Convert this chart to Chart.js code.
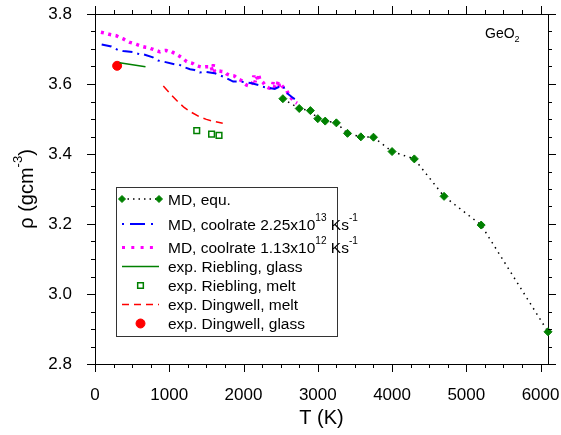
<!DOCTYPE html>
<html>
<head>
<meta charset="utf-8">
<script src="https://cdn.jsdelivr.net/npm/chart.js@4"></script>
<style>
  html, body { margin: 0; padding: 0; background: #fff; }
</style>
</head>
<body>
<canvas id="grafico" width="561" height="435"></canvas>
<script>
const FUENTE = "'Liberation Sans', Arial, sans-serif";

// ticks de los ejes
const ticksT = [0, 1000, 2000, 3000, 4000, 5000, 6000];
const ticksRho = [2.8, 3.0, 3.2, 3.4, 3.6, 3.8];

// MD en equilibrio
const mdEquT = [2530, 2750, 2900, 3000, 3100, 3250, 3400, 3580, 3750, 4000, 4300, 4700, 5200, 6100];
const mdEquRho = [3.558, 3.530, 3.524, 3.501, 3.494, 3.489, 3.459, 3.449, 3.448, 3.407, 3.386, 3.279, 3.197, 2.892];

// MD, enfriamiento 2.25x10^13 K/s
const mdRapidoT = [90, 220, 310, 380, 510, 600, 650, 780, 850, 920, 1080, 1130, 1190, 1280, 1340, 1410, 1480, 1610, 1750, 1860, 1950, 2110, 2200, 2260, 2420, 2480, 2530, 2580, 2650, 2730];
const mdRapidoRho = [3.713, 3.707, 3.697, 3.694, 3.691, 3.685, 3.685, 3.676, 3.667, 3.664, 3.656, 3.656, 3.649, 3.642, 3.640, 3.633, 3.635, 3.631, 3.619, 3.607, 3.607, 3.602, 3.597, 3.592, 3.586, 3.592, 3.595, 3.575, 3.563, 3.551];

// MD, enfriamiento 1.13x10^12 K/s
const mdLentoT = [80, 140, 190, 240, 285, 335, 380, 430, 470, 520, 560, 600, 640, 680, 720, 750, 785, 830, 875, 915,
  955, 990, 1020, 1050, 1075, 1120, 1165, 1200, 1235, 1275, 1315, 1350, 1390, 1425, 1455, 1490, 1525, 1560, 1580, 1595,
  1610, 1640, 1670, 1705, 1740, 1770, 1805, 1840, 1875, 1910, 1940, 1970, 1995, 2020, 2040, 2070, 2095, 2125, 2140, 2155,
  2170, 2190, 2205, 2220, 2245, 2265, 2290, 2310, 2335, 2355, 2385, 2400, 2415, 2430, 2455, 2470, 2485, 2505, 2530, 2555,
  2580, 2600, 2625, 2645, 2670, 2690, 2720];
const mdLentoRho = [3.748, 3.745, 3.742, 3.740, 3.738, 3.733, 3.729, 3.723, 3.719, 3.716, 3.713, 3.710, 3.707, 3.705, 3.704, 3.701, 3.699, 3.695, 3.692, 3.695,
  3.696, 3.693, 3.694, 3.690, 3.688, 3.682, 3.676, 3.670, 3.664, 3.661, 3.659, 3.654, 3.651, 3.649, 3.648, 3.649, 3.649, 3.652, 3.638, 3.656,
  3.636, 3.640, 3.637, 3.636, 3.635, 3.629, 3.626, 3.624, 3.623, 3.617, 3.613, 3.610, 3.607, 3.600, 3.597, 3.595, 3.594, 3.606, 3.624, 3.605,
  3.622, 3.615, 3.626, 3.612, 3.608, 3.604, 3.596, 3.592, 3.589, 3.588, 3.593, 3.605, 3.589, 3.602, 3.598, 3.610, 3.591, 3.598, 3.592, 3.588,
  3.583, 3.573, 3.565, 3.559, 3.553, 3.549, 3.545];

// experimentos
const rieblingVidrioT = [330, 680];
const rieblingVidrioRho = [3.661, 3.649];
const rieblingFundidoT = [1370, 1570, 1670];
const rieblingFundidoRho = [3.467, 3.457, 3.453];
const dingwellFundidoT = [920, 1000, 1100, 1200, 1300, 1400, 1500, 1600, 1720];
const dingwellFundidoRho = [3.594, 3.575, 3.553, 3.533, 3.519, 3.507, 3.499, 3.493, 3.488];
const dingwellVidrioT = [298];
const dingwellVidrioRho = [3.652];

function puntos(xs, ys) {
    return xs.map((x, i) => ({ x: x, y: ys[i] }));
}

// texto con ^{sup} y _{sub}
function textoRico(ctx, texto, x, y, size, dibujar) {
    const partes = [];
    const re = /([\^_])\{([^}]*)\}/g;
    let ultimo = 0, m;
    while ((m = re.exec(texto))) {
        if (m.index > ultimo) partes.push({ t: texto.slice(ultimo, m.index), k: '' });
        partes.push({ t: m[2], k: m[1] });
        ultimo = re.lastIndex;
    }
    if (ultimo < texto.length) partes.push({ t: texto.slice(ultimo), k: '' });

    let cx = x;
    for (const p of partes) {
        const s = p.k ? size * 0.65 : size;
        const dy = p.k === '^' ? -size * 0.55 : (p.k === '_' ? size * 0.28 : 0);
        ctx.font = s + 'px ' + FUENTE;
        if (dibujar) ctx.fillText(p.t, cx, y + dy);
        cx += ctx.measureText(p.t).width;
    }
    return cx - x;
}

// marcas mayores (8 px) y menores (4 px) en los cuatro lados, hacia afuera
const marcas = {
    id: 'marcas',
    afterDraw(chart) {
        const { ctx, chartArea: a, scales } = chart;
        ctx.save();
        ctx.strokeStyle = '#000';
        ctx.lineWidth = 1;
        ctx.beginPath();
        for (let v = 0; v <= 6000; v += 250) {
            const l = v % 1000 === 0 ? 8 : 4;
            const px = Math.round(scales.x.getPixelForValue(v)) + 0.5;
            ctx.moveTo(px, a.bottom); ctx.lineTo(px, a.bottom + l);
            ctx.moveTo(px, a.top); ctx.lineTo(px, a.top - l);
        }
        for (let i = 0; i <= 20; i++) {
            const l = i % 4 === 0 ? 8 : 4;
            const py = Math.round(scales.y.getPixelForValue(2.8 + i * 0.05)) + 0.5;
            ctx.moveTo(a.left, py); ctx.lineTo(a.left - l, py);
            ctx.moveTo(a.right, py); ctx.lineTo(a.right + l, py);
        }
        ctx.stroke();
        ctx.restore();
    }
};

const textos = {
    id: 'textos',
    afterDraw(chart) {
        const ctx = chart.ctx;
        const a = chart.chartArea;
        ctx.save();
        ctx.fillStyle = '#000';
        ctx.textBaseline = 'alphabetic';
        ctx.textAlign = 'left';

        // titulo del eje y, rotado
        const tituloY = 'ρ (gcm^{-3})';
        const w = textoRico(ctx, tituloY, 0, 0, 20, false);
        ctx.translate(33, (a.top + a.bottom) / 2);
        ctx.rotate(-Math.PI / 2);
        textoRico(ctx, tituloY, -w / 2, 0, 20, true);
        ctx.setTransform(1, 0, 0, 1, 0, 0);

        textoRico(ctx, 'GeO_{2}', 485, 38, 14, true);
        ctx.restore();
    }
};

const leyenda = {
    id: 'leyenda',
    afterDraw(chart) {
        const ctx = chart.ctx;
        const caja = { left: 116.5, top: 187.5, right: 337.5, bottom: 336.5 };
        const filas = [199, 224, 247.5, 266.5, 285.5, 304.5, 323.5];
        const x0 = 122, x1 = 159, xm = 140.5, xt = 168;

        ctx.save();
        ctx.fillStyle = '#fff';
        ctx.fillRect(caja.left, caja.top, caja.right - caja.left, caja.bottom - caja.top);
        ctx.strokeStyle = '#333';
        ctx.lineWidth = 1;
        ctx.strokeRect(caja.left, caja.top, caja.right - caja.left, caja.bottom - caja.top);

        chart.data.datasets.forEach((ds, i) => {
            const y = filas[i];
            if (ds.showLine) {
                ctx.save();
                ctx.strokeStyle = ds.borderColor;
                ctx.lineWidth = ds.legendWidth || ds.borderWidth;
                ctx.setLineDash(ds.legendDash || ds.borderDash || []);
                ctx.beginPath();
                ctx.moveTo(x0, y);
                ctx.lineTo(x1, y);
                ctx.stroke();
                ctx.restore();
            }
            if (ds.pointRadius > 0) {
                ctx.save();
                ctx.fillStyle = ds.pointBackgroundColor;
                ctx.strokeStyle = ds.pointBorderColor;
                const op = { pointStyle: ds.pointStyle, radius: ds.pointRadius, rotation: 0, borderWidth: ds.pointBorderWidth };
                ctx.lineWidth = ds.pointBorderWidth;
                if (ds.showLine) {
                    op.radius = 3.5;
                    Chart.helpers.drawPoint(ctx, op, x0, y);
                    Chart.helpers.drawPoint(ctx, op, x1, y);
                } else {
                    Chart.helpers.drawPoint(ctx, op, xm, y);
                }
                ctx.restore();
            }
            ctx.fillStyle = '#000';
            ctx.textBaseline = 'alphabetic';
            textoRico(ctx, ds.label, xt, y + 5.5, 15.5, true);
        });
        ctx.restore();
    }
};

// tamaño fijo de cada eje, sin relleno extra por las etiquetas
function fijarEje(ancho, alto) {
    return s => {
        if (ancho !== null) s.width = ancho;
        if (alto !== null) s.height = alto;
        s.paddingLeft = s.paddingRight = s.paddingTop = s.paddingBottom = 0;
    };
}

const ejeBase = {
    type: 'linear',
    grid: { display: false },
    border: { display: true, color: '#000', width: 1 }
};

const ctx = document.getElementById('grafico').getContext('2d');

new Chart(ctx, {
    type: 'scatter',
    data: {
        datasets: [
            {
                label: 'MD, equ.',
                data: puntos(mdEquT, mdEquRho),
                showLine: true,
                borderColor: '#000',
                borderWidth: 1.5,
                borderDash: [1.5, 4.5],
                legendDash: [1.5, 4],
                pointStyle: 'rectRot',
                pointRadius: 4,
                pointBackgroundColor: '#008000',
                pointBorderColor: '#008000',
                pointBorderWidth: 1,
                clip: false
            },
            {
                label: 'MD, coolrate 2.25x10^{13} Ks^{-1}',
                data: puntos(mdRapidoT, mdRapidoRho),
                showLine: true,
                borderColor: '#0000ff',
                borderWidth: 2,
                borderDash: [10, 5, 2, 5],
                legendDash: [2, 6, 15, 6],
                pointRadius: 0
            },
            {
                label: 'MD, coolrate 1.13x10^{12} Ks^{-1}',
                data: puntos(mdLentoT, mdLentoRho),
                showLine: true,
                borderColor: '#ff00ff',
                borderWidth: 3.5,
                borderDash: [3, 4.5],
                borderJoinStyle: 'bevel',
                legendDash: [3, 6.3],
                legendWidth: 3,
                pointRadius: 0
            },
            {
                label: 'exp. Riebling, glass',
                data: puntos(rieblingVidrioT, rieblingVidrioRho),
                showLine: true,
                borderColor: '#008000',
                borderWidth: 1.5,
                pointRadius: 0
            },
            {
                label: 'exp. Riebling, melt',
                data: puntos(rieblingFundidoT, rieblingFundidoRho),
                showLine: false,
                pointStyle: 'rect',
                pointRadius: 4,
                pointBackgroundColor: '#fff',
                pointBorderColor: '#008000',
                pointBorderWidth: 1.5
            },
            {
                label: 'exp. Dingwell, melt',
                data: puntos(dingwellFundidoT, dingwellFundidoRho),
                showLine: true,
                borderColor: '#ff0000',
                borderWidth: 1.5,
                borderDash: [8, 5],
                legendDash: [7, 5],
                pointRadius: 0
            },
            {
                label: 'exp. Dingwell, glass',
                data: puntos(dingwellVidrioT, dingwellVidrioRho),
                showLine: false,
                pointStyle: 'circle',
                pointRadius: 4.5,
                pointBackgroundColor: '#ff0000',
                pointBorderColor: '#ff0000',
                pointBorderWidth: 1
            }
        ]
    },
    options: {
        responsive: false,
        animation: false,
        events: [],
        layout: { padding: 0 },
        elements: { line: { tension: 0 } },
        plugins: {
            legend: { display: false },
            tooltip: { enabled: false }
        },
        scales: {
            x: {
                ...ejeBase,
                position: 'bottom',
                min: 0,
                max: 6100,
                afterBuildTicks: s => { s.ticks = ticksT.map(v => ({ value: v })); },
                afterFit: fijarEje(null, 71),
                ticks: { color: '#000', font: { family: FUENTE, size: 17 }, padding: 13, maxRotation: 0, callback: v => String(v) },
                title: { display: true, text: 'T (K)', color: '#000', font: { family: FUENTE, size: 20 }, padding: { top: 0, bottom: 5 } }
            },
            xArriba: {
                ...ejeBase,
                position: 'top',
                min: 0,
                max: 6100,
                afterBuildTicks: s => { s.ticks = ticksT.map(v => ({ value: v })); },
                afterFit: fijarEje(null, 14),
                ticks: { display: false }
            },
            y: {
                ...ejeBase,
                position: 'left',
                min: 2.8,
                max: 3.8,
                afterBuildTicks: s => { s.ticks = ticksRho.map(v => ({ value: v })); },
                afterFit: fijarEje(95, null),
                ticks: { color: '#000', font: { family: FUENTE, size: 17 }, padding: 15, callback: v => v.toFixed(1) }
            },
            yDerecha: {
                ...ejeBase,
                position: 'right',
                min: 2.8,
                max: 3.8,
                afterBuildTicks: s => { s.ticks = ticksRho.map(v => ({ value: v })); },
                afterFit: fijarEje(13, null),
                ticks: { display: false }
            }
        }
    },
    plugins: [marcas, textos, leyenda]
});
</script>
</body>
</html>
